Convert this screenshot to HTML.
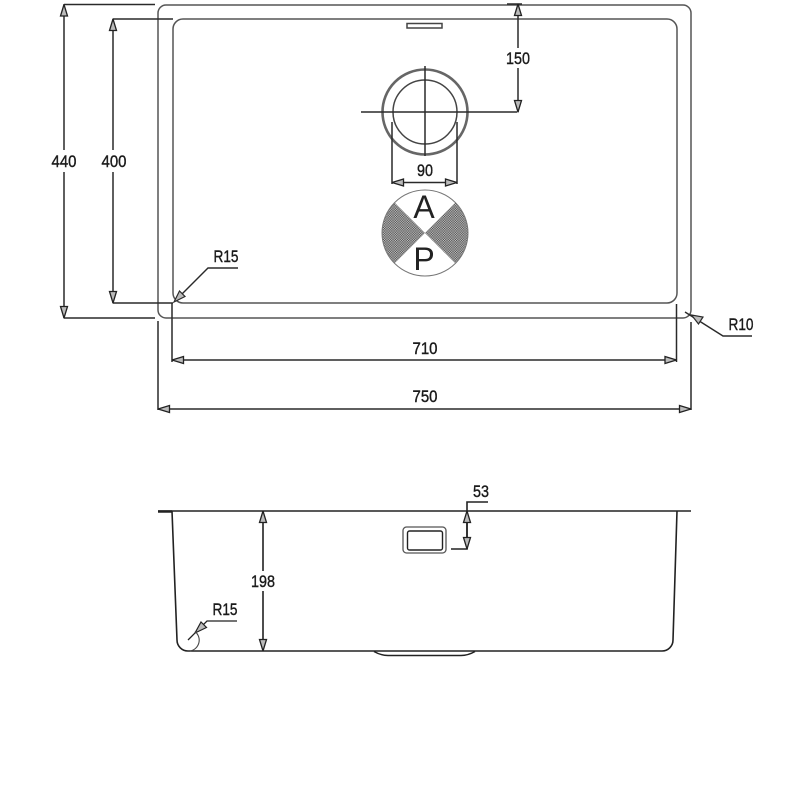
<!DOCTYPE html>
<html><head><meta charset="utf-8"><style>
html,body{margin:0;padding:0;background:#fff}
svg{display:block}
text{font-family:"Liberation Sans",sans-serif;font-size:17px;fill:#1a1a1a;text-anchor:middle;stroke:#1a1a1a;stroke-width:.4}
</style></head><body>
<svg width="800" height="800" viewBox="0 0 800 800" xmlns="http://www.w3.org/2000/svg">
<defs>
<pattern id="h" width="2.4" height="2.4" patternUnits="userSpaceOnUse">
<rect width="2.4" height="2.4" fill="#c4c4c4"/>
<rect width="1.2" height="1.2" fill="#4c4c4c"/>
<rect x="1.2" y="1.2" width="1.2" height="1.2" fill="#4c4c4c"/>
</pattern>
<marker id="a" viewBox="0 0 13 9" refX="12.5" refY="4.5" markerWidth="13" markerHeight="9" markerUnits="userSpaceOnUse" orient="auto-start-reverse">
<path d="M12.5 4.500L1 1V8Z" fill="#bbb" stroke="#222" stroke-width="1.300"/>
</marker>
</defs>

<!-- Top view -->
<g fill="none" stroke="#555" stroke-width="1.5">
<rect x="158" y="5" width="533" height="313" rx="8"/>
<rect x="173" y="19" width="504" height="284" rx="10"/>
<rect x="407" y="23.500" width="35" height="4.500" stroke="#444"/>
</g>

<g fill="none" stroke="#2a2a2a" stroke-width="1.5">
<!-- Drain -->
<circle cx="425" cy="112" r="42.5" stroke="#666" stroke-width="2.600"/>
<circle cx="425" cy="112" r="32" stroke="#444"/>
<path d="M361 112H517M425 66V156"/>
<!-- 440 -->
<path d="M155 4.500H64M155 318H64"/>
<path d="M64 4.500V318" marker-start="url(#a)" marker-end="url(#a)"/>
<!-- 400 -->
<path d="M173 19H113M173 303H113"/>
<path d="M113 19V303" marker-start="url(#a)" marker-end="url(#a)"/>
<!-- 150 -->
<path d="M507 4H522"/>
<path d="M518 4V112" marker-start="url(#a)" marker-end="url(#a)"/>
<!-- 90 -->
<path d="M392 122V184M457 122V184"/>
<path d="M392 182.500H457" marker-start="url(#a)" marker-end="url(#a)"/>
<!-- 710 -->
<path d="M172 303V362M676.500 304V362"/>
<path d="M172 360H676.500" marker-start="url(#a)" marker-end="url(#a)"/>
<!-- 750 -->
<path d="M158 321V410M691 322V410"/>
<path d="M158 409H691" marker-start="url(#a)" marker-end="url(#a)"/>
<!-- R15 top -->
<path d="M238 268H208L175 301" stroke-width="1.400"/>
<path d="M174 302L185 296.500L179.500 291Z" fill="#bbb" stroke-width="1.200"/>
<!-- R10 -->
<path d="M685 312L723 336H752" stroke-width="1.400"/>
<path d="M691.500 315L698.500 324L703 317Z" fill="#bbb" stroke-width="1.200"/>
</g>

<!-- AP symbol -->
<path d="M425 233L394.600 202.600A43 43 0 0 0 394.600 263.400Z" fill="url(#h)"/>
<path d="M425 233L455.400 202.600A43 43 0 0 1 455.400 263.400Z" fill="url(#h)"/>
<circle cx="425" cy="233" r="43" fill="none" stroke="#777" stroke-width="1"/>
<text x="424" y="218" style="font-size:32px;stroke:none;fill:#222">A</text>
<text x="424" y="270" style="font-size:32px;stroke:none;fill:#222">P</text>

<!-- Side view -->
<g fill="none" stroke="#222" stroke-width="1.600">
<path d="M158 511H691"/>
<path d="M158 511.500H172" stroke-width="2.500"/>
<path d="M172 511L177 640A11 11 0 0 0 188 651H662A11 11 0 0 0 673 640L677 511"/>
<path d="M374 651.500Q381 655.500 388 655.500H461Q468 655.500 475 651.500" stroke-width="1.500"/>
<rect x="403" y="527" width="43" height="26" rx="3.500" stroke="#555" stroke-width="1.300"/>
<rect x="407.500" y="531" width="35" height="19" rx="2" stroke-width="1.400"/>
<!-- 198 -->
<path d="M263 511V651" marker-start="url(#a)" marker-end="url(#a)"/>
<!-- R15 side -->
<path d="M237 621H207L188 640" stroke-width="1.300"/>
<path d="M195 633L206.500 627.500L201 622Z" fill="#bbb" stroke-width="1.200"/>
<path d="M195 631.500A11 11 0 0 1 190 651" stroke="#444" stroke-width="1.100"/>
<!-- 53 -->
<path d="M488 502H467V549H451"/>
<path d="M467 511V549" marker-start="url(#a)" marker-end="url(#a)"/>
</g>

<!-- Labels with background gaps -->
<rect x="50" y="150" width="28" height="22" fill="#fff"/>
<rect x="100" y="150" width="28" height="22" fill="#fff"/>
<rect x="504" y="48" width="28" height="20" fill="#fff"/>
<rect x="250" y="571" width="26" height="20" fill="#fff"/>
<text x="64" y="167" textLength="25" lengthAdjust="spacingAndGlyphs">440</text>
<text x="114" y="167" textLength="25" lengthAdjust="spacingAndGlyphs">400</text>
<text x="518" y="64" textLength="24" lengthAdjust="spacingAndGlyphs">150</text>
<text x="425" y="176" textLength="16" lengthAdjust="spacingAndGlyphs">90</text>
<text x="425" y="354" textLength="25" lengthAdjust="spacingAndGlyphs">710</text>
<text x="425" y="402" textLength="25" lengthAdjust="spacingAndGlyphs">750</text>
<text x="226" y="262" textLength="25" lengthAdjust="spacingAndGlyphs">R15</text>
<text x="741" y="330" textLength="25" lengthAdjust="spacingAndGlyphs">R10</text>
<text x="263" y="587" textLength="24" lengthAdjust="spacingAndGlyphs">198</text>
<text x="225" y="615" textLength="25" lengthAdjust="spacingAndGlyphs">R15</text>
<text x="481" y="497" textLength="16" lengthAdjust="spacingAndGlyphs">53</text>
</svg>
</body></html>
